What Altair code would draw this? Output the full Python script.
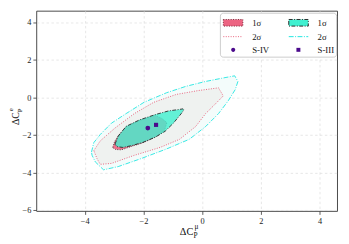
import altair as alt
import pandas as pd

# ---- contour data (data units) ----
c2_x = [-3.77, -3.69, -3.47, -3.09, -2.59, -1.98, -1.21, -0.55, 0.12, 0.67, 1.11, 1.22, 1.13, 0.89, 0.56, 0.12, -0.44, -1.21, -2.09, -2.86, -3.36, -3.64, -3.75]
c2_y = [-2.92, -2.41, -1.98, -1.38, -0.87, -0.27, 0.24, 0.58, 0.84, 1.01, 1.14, 0.84, 0.41, -0.19, -0.87, -1.56, -2.24, -2.75, -3.27, -3.69, -3.86, -3.44, -3.09]

r2_x = [-3.69, -3.47, -2.97, -2.31, -1.65, -0.88, -0.11, 0.56, 0.72, 0.45, 0.12, -0.22, -0.77, -1.43, -2.31, -3.09, -3.47, -3.58]
r2_y = [-2.84, -2.32, -1.64, -0.87, -0.27, 0.15, 0.36, 0.50, 0.07, -0.36, -0.87, -1.56, -2.24, -2.67, -3.09, -3.52, -3.57, -3.27]

r1_x = [-3.05, -2.98, -2.86, -2.59, -2.14, -1.59, -1.37, -1.20, -1.28, -1.60, -2.03, -2.42, -2.75, -2.95]
r1_y = [-2.67, -2.35, -2.05, -1.57, -1.24, -0.96, -1.13, -1.35, -1.78, -2.13, -2.43, -2.62, -2.80, -2.78]

c1_x = [-2.97, -2.86, -2.59, -2.14, -1.59, -1.15, -0.65, -0.62, -0.71, -0.98, -1.26, -1.59, -2.03, -2.42, -2.70, -2.90]
c1_y = [-2.50, -2.07, -1.55, -1.21, -0.92, -0.73, -0.62, -0.67, -0.87, -1.38, -1.81, -2.12, -2.41, -2.58, -2.67, -2.63]

pt_names = ["S-IV", "S-III"]
pt_x = [-1.85, -1.57]
pt_y = [-1.64, -1.47]

# legend entries (column-major order: left column, then right column)
keys = ["r1", "r2", "S-IV", "c1", "c2", "S-III"]
x_ticks = [-4, -2, 0, 2, 4]
y_ticks = [-6, -4, -2, 0, 2, 4]

rows = []
for k, xs_, ys_ in [("c2", c2_x, c2_y), ("r2", r2_x, r2_y), ("r1", r1_x, r1_y), ("c1", c1_x, c1_y)]:
    for i, (a, b) in enumerate(zip(xs_, ys_)):
        rows.append({"key": k, "idx": i, "x": a, "y": b})
poly = pd.DataFrame(rows)
pts = pd.DataFrame({"key": pt_names, "x": pt_x, "y": pt_y})

PINK = "#ec6482"
TEAL = "#40f0d0"
CYAN = "#1ee6e0"
RED2 = "#e8607a"
DARK = "#2a2a2a"
DOT = "#4b0a8c"

xs = alt.Scale(domain=[-5.65, 4.6], nice=False, zero=False)
ys = alt.Scale(domain=[-6.05, 4.6], nice=False, zero=False)

rect = "M-0.867,-0.45L1.8,-0.45L1.8,0.45L-0.867,0.45Z"
seg = "M-0.867,0L1.8,0"
circ = "M0.2,0A0.28,0.28 0 1,1 0.76,0A0.28,0.28 0 1,1 0.2,0Z"
sq = "M0.18,-0.27L0.72,-0.27L0.72,0.27L0.18,0.27Z"

style = {
    "r1": (PINK, "#7a2838", rect, [1, 1.5]),
    "r2": ("transparent", RED2, seg, [1, 1.5]),
    "S-IV": (DOT, "transparent", circ, [1, 0]),
    "c1": (TEAL, DARK, rect, [4, 1.5, 1, 1.5]),
    "c2": ("transparent", CYAN, seg, [5, 1.5, 1, 1.5]),
    "S-III": (DOT, "transparent", sq, [1, 0]),
}
fill_scale = alt.Scale(domain=keys, range=[style[k][0] for k in keys])
stroke_scale = alt.Scale(domain=keys, range=[style[k][1] for k in keys])
shape_scale = alt.Scale(domain=keys, range=[style[k][2] for k in keys])
dash_scale = alt.Scale(domain=keys, range=[style[k][3] for k in keys])

is1 = "(datum.value==='r1'||datum.value==='c1')"
is2 = "(datum.value==='r2'||datum.value==='c2')"
leg = alt.Legend(title=None, labelExpr=f"{is1} ? '1σ' : {is2} ? '2σ' : datum.value")

xenc = alt.X("x:Q", scale=xs, axis=alt.Axis(values=x_ticks, title=None))
yenc = alt.Y("y:Q", scale=ys, axis=alt.Axis(values=y_ticks, title=None))

base = alt.Chart(poly)
def poly_layer(k, fill, stroke, dash, width, fo=1.0):
    return base.transform_filter(f"datum.key==='{k}'").mark_line(
        interpolate="linear-closed", fill=fill, fillOpacity=fo, stroke=stroke,
        strokeWidth=width, strokeDash=dash
    ).encode(x=xenc, y=yenc, order="idx:Q")

c2_layer = poly_layer("c2", "#f3fcfb", CYAN, [5, 1.5, 1, 1.5], 0.9)
r2_layer = poly_layer("r2", "#eff2f0", RED2, [1, 1.5], 1.0)
r1_layer = poly_layer("r1", PINK, "#3a3a3a", [1, 1.5], 0.9, 0.9)
c1_layer = poly_layer("c1", TEAL, DARK, [4, 1.5, 1, 1.5], 0.9, 0.8)

ptc = alt.Chart(pts).transform_filter("datum.key==='S-IV'").mark_point(
    filled=True, opacity=1, size=24, shape="circle", color=DOT).encode(x=xenc, y=yenc)
pts_ = alt.Chart(pts).transform_filter("datum.key==='S-III'").mark_point(
    filled=True, opacity=1, size=18, shape="square", color=DOT).encode(x=xenc, y=yenc)

# legend carrier: no marks drawn, only the merged legend
legend_layer = alt.Chart(pts).transform_filter("false").mark_point(
    filled=True, opacity=1, strokeWidth=1).encode(
    x=xenc, y=yenc,
    fill=alt.Fill("key:N", scale=fill_scale, legend=leg),
    stroke=alt.Stroke("key:N", scale=stroke_scale, legend=leg),
    shape=alt.Shape("key:N", scale=shape_scale, legend=leg),
    strokeDash=alt.StrokeDash("key:N", scale=dash_scale, legend=leg),
)

# axis titles as text (Delta C with super/subscripts)
def txt(t, x, y, size, angle=0, align="left"):
    return alt.Chart(pd.DataFrame({"t": [t]})).mark_text(
        font="Liberation Serif", fontSize=size, align=align, baseline="alphabetic",
        angle=angle, color="#111"
    ).encode(text="t:N", x=alt.value(x), y=alt.value(y))

titles = [
    txt("ΔC", 147, 230, 10.5),
    txt("μ", 162, 223, 7.5),
    txt("P", 161, 233, 7.5),
    txt("ΔC", -18, 117, 10, angle=270),
    txt("e", -24, 103, 7, angle=270),
    txt("P", -15, 104, 7, angle=270),
]

chart = alt.layer(c2_layer, r2_layer, r1_layer, c1_layer, ptc, pts_, legend_layer, *titles).properties(
    width=308, height=205,
    autosize=alt.AutoSizeParams(type="none"),
    padding={"left": 29, "top": 0, "right": 4, "bottom": 31},
).configure_view(stroke="#333333", strokeWidth=0.9).configure_axis(
    domain=False, tickColor="#333333", tickSize=3.5, tickWidth=0.8,
    labelFont="Liberation Serif", labelFontSize=8.5, labelColor="#222222", labelPadding=2,
    grid=True, gridColor="#dcdcdc", gridDash=[2.5, 2.5], gridWidth=0.7,
).configure_legend(
    orient="none", legendX=188, legendY=2, columns=2,
    columnPadding=17, rowPadding=0.5, padding=2, symbolSize=225,
    fillColor="white", strokeColor="#cccccc", cornerRadius=3,
    labelFont="Liberation Serif", labelFontSize=9, labelColor="#111111",
    labelOffset=15, symbolStrokeWidth=1, symbolOpacity=1,
)

chart.save("out.html", embed_options={"renderer": "svg", "actions": False})
